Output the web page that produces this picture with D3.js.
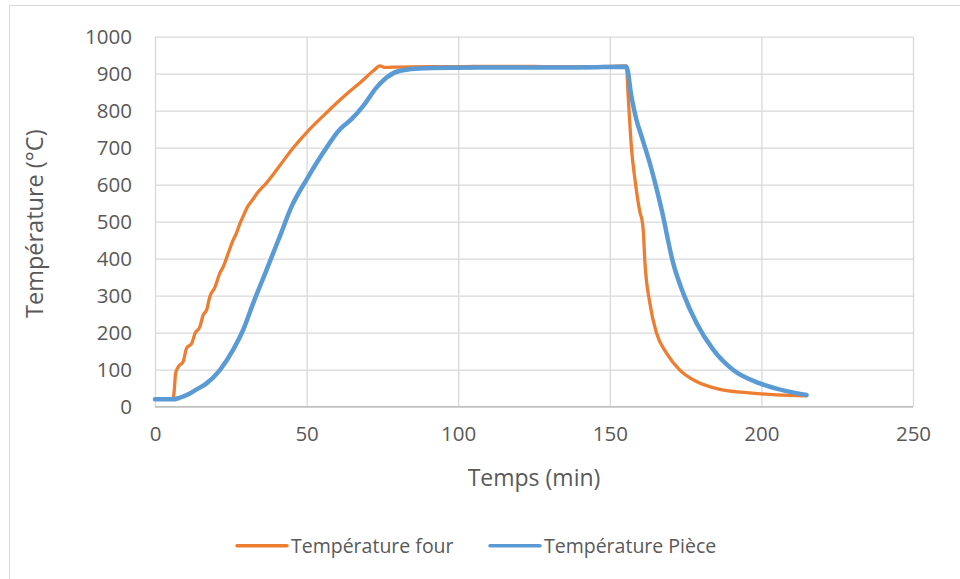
<!DOCTYPE html>
<html>
<head>
<meta charset="utf-8">
<script src="https://cdn.jsdelivr.net/npm/d3@7"></script>
<style>
  html, body { margin: 0; padding: 0; background: #fff; }
  svg { display: block; }
</style>
</head>
<body>
<svg id="chart" width="960" height="579"></svg>
<script>
// ---- data ----
const fourTime = [0, 6.0, 6.3, 6.8, 7.7, 9.3, 10.4, 12.1, 13.2, 14.8, 15.9, 17.0, 18.1, 19.6, 21.4, 22.6, 24.2, 25.5, 26.9, 28.0, 29.1, 30.5, 31.9, 34.0, 36.8, 41.0, 45.6, 50.0, 55.5, 63.2, 68.0, 72.0, 74.2, 76.0, 80.0, 90.0, 100.0, 110.0, 120.0, 130.0, 140.0, 150.0, 155.5, 156.0, 157.2, 158.3, 160.0, 160.6, 161.0, 161.6, 163.2, 165.4, 168.7, 173.1, 178.6, 186.3, 195.1, 205.0, 214.9];
const fourTemp = [20, 20, 40, 90, 108, 122, 158, 171, 198, 216, 248, 261, 298, 320, 361, 380, 416, 445, 470, 495, 515, 540, 556, 580, 605, 650, 700, 741, 786, 845, 878, 908, 921, 917, 918, 919, 919, 920, 920, 919, 919, 920, 921, 849, 694, 614, 524, 505, 480, 388, 280, 199, 145, 99, 68, 47, 38, 32, 29];
const pieceTime = [0, 6.0, 8.0, 11.5, 14.0, 17.0, 21.4, 25.8, 29.1, 32.4, 36.8, 41.2, 45.1, 50.0, 55.5, 61.0, 64.8, 68.7, 73.1, 76.4, 80.8, 88.5, 100.0, 120.0, 140.0, 155.5, 157.1, 158.8, 160.5, 163.2, 165.4, 167.1, 170.9, 174.2, 178.6, 184.1, 190.7, 199.5, 208.3, 214.9];
const pieceTemp = [20, 20, 24, 36, 48, 63, 99, 154, 208, 280, 370, 461, 542, 614, 687, 750, 777, 813, 863, 890, 908, 915, 916, 917, 917, 919, 840, 775, 730, 658, 590, 532, 388, 307, 226, 154, 99, 63, 42, 32];
const seriesNames = ["Température four", "Température Pièce"];
const seriesColors = ["#ED7D31", "#5B9BD5"];
const xTicks = [0, 50, 100, 150, 200, 250];
const yTicks = [0, 100, 200, 300, 400, 500, 600, 700, 800, 900, 1000];
const xTitle = "Temps (min)";
const yTitle = "Température (°C)";

// ---- drawing ----
const svg = d3.select("#chart");
const font = "'Open Sans', 'Liberation Sans', sans-serif";
const plot = { left: 155, right: 913, top: 36.7, bottom: 406.7 };

const x = d3.scaleLinear().domain([0, 250]).range([plot.left, plot.right]);
const y = d3.scaleLinear().domain([0, 1000]).range([plot.bottom, plot.top]);

// outer chart border
svg.append("rect")
  .attr("x", 9.5).attr("y", 5.5)
  .attr("width", 1000).attr("height", 1000)
  .attr("fill", "none").attr("stroke", "#d9d9d9").attr("stroke-width", 1);

// horizontal gridlines
svg.append("g")
  .attr("transform", `translate(${plot.left},0)`)
  .call(d3.axisLeft(y).tickValues(yTicks).tickSize(-(plot.right - plot.left)).tickFormat(""))
  .call(g => g.select(".domain").remove())
  .call(g => g.selectAll(".tick line").attr("stroke", "#d9d9d9").attr("stroke-width", 1.3));

// vertical gridlines
svg.append("g")
  .attr("transform", `translate(0,${plot.top})`)
  .call(d3.axisBottom(x).tickValues(xTicks).tickSize(plot.bottom - plot.top).tickFormat(""))
  .call(g => g.select(".domain").remove())
  .call(g => g.selectAll(".tick line").attr("stroke", "#d9d9d9").attr("stroke-width", 1.3));

// bottom axis line
svg.append("line")
  .attr("x1", plot.left).attr("x2", plot.right)
  .attr("y1", plot.bottom).attr("y2", plot.bottom)
  .attr("stroke", "#bfbfbf").attr("stroke-width", 1.5);

// y tick labels
svg.append("g")
  .attr("transform", `translate(${plot.left},0)`)
  .call(d3.axisLeft(y).tickValues(yTicks).tickSize(0).tickPadding(23).tickFormat(d3.format("d")))
  .call(g => g.select(".domain").remove())
  .call(g => g.selectAll("text").attr("font-family", font).attr("font-size", 20.5).attr("fill", "#595959"));

// x tick labels
svg.append("g")
  .attr("transform", `translate(0,${plot.bottom})`)
  .call(d3.axisBottom(x).tickValues(xTicks).tickSize(0).tickPadding(20).tickFormat(d3.format("d")))
  .call(g => g.select(".domain").remove())
  .call(g => g.selectAll("text").attr("font-family", font).attr("font-size", 20.5).attr("fill", "#595959"));

// axis titles
svg.append("text")
  .attr("x", (plot.left + plot.right) / 2).attr("y", 486)
  .attr("text-anchor", "middle")
  .attr("font-family", font).attr("font-size", 23).attr("fill", "#595959")
  .text(xTitle);

svg.append("text")
  .attr("transform", `translate(43,${(plot.top + plot.bottom) / 2 + 2}) rotate(-90)`)
  .attr("text-anchor", "middle")
  .attr("font-family", font).attr("font-size", 23.5).attr("fill", "#595959")
  .text(yTitle);

// lines
const series = [
  { name: seriesNames[0], color: seriesColors[0], width: 3.3, pts: fourTime.map((t, i) => [t, fourTemp[i]]) },
  { name: seriesNames[1], color: seriesColors[1], width: 4.5, pts: pieceTime.map((t, i) => [t, pieceTemp[i]]) }
];
const line = d3.line().x(d => x(d[0])).y(d => y(d[1])).curve(d3.curveMonotoneX);

svg.append("g").selectAll("path")
  .data(series)
  .join("path")
  .attr("d", d => line(d.pts))
  .attr("fill", "none")
  .attr("stroke", d => d.color)
  .attr("stroke-width", d => d.width)
  .attr("stroke-linejoin", "round")
  .attr("stroke-linecap", "round");

// legend
const legendItems = [
  { x0: 237, x1: 287, tx: 291 },
  { x0: 490, x1: 540, tx: 544 }
];
const lg = svg.append("g");
series.forEach((s, i) => {
  const it = legendItems[i];
  lg.append("line")
    .attr("x1", it.x0).attr("x2", it.x1).attr("y1", 545.7).attr("y2", 545.7)
    .attr("stroke", s.color).attr("stroke-width", 3.5).attr("stroke-linecap", "round");
  lg.append("text")
    .attr("x", it.tx).attr("y", 552.5)
    .attr("font-family", font).attr("font-size", 19.5).attr("fill", "#595959")
    .text(s.name);
});
</script>
</body>
</html>
